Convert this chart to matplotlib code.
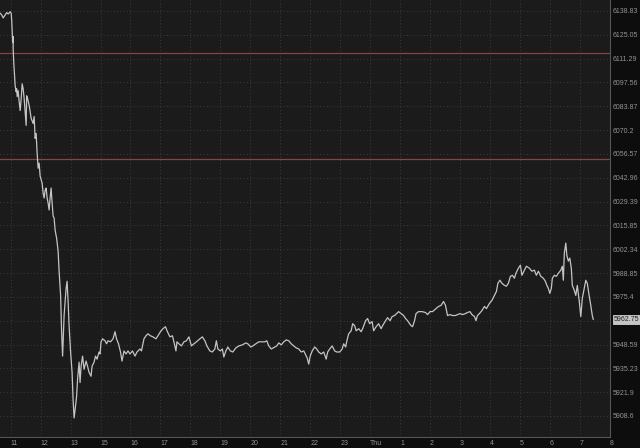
import matplotlib
matplotlib.use('agg')
import matplotlib.pyplot as plt
from matplotlib.ticker import FixedLocator, FixedFormatter, NullLocator

###########
# Data    #
###########

# minutes after the "11" tick, price
minutes = [-21, -18, -15, -11, -8, -5, -1, 1, 2, 3,
           4, 5, 5, 6, 7, 9, 11, 12, 13, 15,
           17, 19, 21, 23, 25, 27, 29, 31, 32, 34,
           37, 39, 41, 45, 47, 49, 51, 53, 55, 57,
           59, 63, 65, 67, 69, 71, 73, 75, 77, 79,
           81, 83, 85, 87, 89, 92, 95, 97, 100, 102,
           104, 107, 111, 113, 115, 117, 120, 123, 125, 127,
           129, 132, 134, 137, 139, 141, 144, 147, 151, 154,
           157, 161, 163, 167, 170, 173, 177, 179, 181, 184,
           189, 192, 195, 200, 205, 209, 212, 216, 220, 223,
           227, 231, 235, 239, 244, 249, 253, 259, 262, 267,
           271, 275, 280, 285, 291, 295, 300, 305, 310, 314,
           319, 324, 327, 331, 333, 337, 342, 347, 352, 357,
           362, 367, 372, 379, 384, 389, 393, 399, 404, 409,
           412, 415, 420, 424, 427, 431, 435, 440, 445, 451,
           457, 464, 471, 475, 481, 485, 491, 497, 502, 509,
           513, 517, 522, 529, 533, 537, 542, 547, 552, 557,
           562, 567, 572, 577, 582, 587, 591, 594, 597, 600,
           604, 609, 613, 617, 622, 627, 632, 635, 639, 644,
           649, 653, 659, 664, 667, 671, 673, 677, 682, 685,
           689, 692, 697, 702, 705, 711, 715, 719, 724, 727,
           732, 737, 742, 745, 751, 755, 760, 764, 769, 773,
           777, 782, 787, 791, 795, 799, 802, 805, 809, 812,
           817, 824, 831, 835, 840, 845, 852, 857, 862, 867,
           871, 875, 880, 885, 891, 895, 900, 905, 911, 915,
           920, 924, 929, 932, 935, 939, 944, 949, 953, 959,
           964, 969, 973, 976, 980, 984, 989, 993, 997, 1001,
           1005, 1009, 1012, 1017, 1021, 1024, 1029, 1033, 1039, 1044,
           1049, 1053, 1057, 1062, 1067, 1071, 1074, 1077, 1080, 1083,
           1085, 1089, 1093, 1097, 1102, 1105, 1107, 1109, 1112, 1114,
           1117, 1120, 1123, 1125, 1129, 1132, 1135, 1139, 1142, 1145,
           1149, 1152, 1155, 1159, 1162, 1165, 1167]

prices = [6137.5, 6136.6, 6134.8, 6136.6, 6137.9, 6137.1, 6138.4, 6137.5, 6133.7, 6126.9,
          6120.6, 6124.0, 6116.7, 6109.8, 6105.3, 6095.6, 6092.2, 6093.9, 6089.4, 6092.8,
          6086.5, 6081.4, 6088.2, 6096.8, 6093.9, 6088.2, 6080.8, 6072.9, 6089.9, 6088.2,
          6084.3, 6080.8, 6076.9, 6074.0, 6078.0, 6065.5, 6068.3, 6057.0, 6048.4, 6051.3,
          6043.9, 6039.9, 6034.2, 6031.4, 6035.9, 6037.1, 6031.4, 6028.5, 6024.6, 6031.4,
          6037.1, 6028.5, 6021.2, 6020.0, 6013.2, 6008.6, 6001.3, 5989.9, 5976.2, 5955.8,
          5942.1, 5964.9, 5980.2, 5984.2, 5972.8, 5959.2, 5944.4, 5933.0, 5917.7, 5907.5,
          5912.0, 5919.4, 5929.1, 5938.7, 5927.3, 5936.4, 5942.1, 5934.7, 5939.3, 5936.4,
          5933.0, 5930.8, 5936.4, 5938.7, 5942.1, 5940.4, 5944.4, 5943.3, 5950.1, 5951.8,
          5950.7, 5949.0, 5950.7, 5950.1, 5951.8, 5955.8, 5951.8, 5949.0, 5944.4, 5939.3,
          5945.0, 5943.3, 5945.0, 5943.3, 5945.0, 5942.1, 5944.4, 5946.1, 5945.0, 5951.8,
          5953.5, 5954.6, 5953.5, 5952.9, 5951.8, 5953.5, 5955.8, 5957.5, 5958.6, 5955.8,
          5952.9, 5953.5, 5950.1, 5945.0, 5950.1, 5949.0, 5947.8, 5950.1, 5950.7, 5952.9,
          5947.8, 5949.0, 5950.1, 5951.8, 5952.9, 5950.7, 5947.8, 5945.0, 5944.4, 5946.1,
          5950.7, 5946.1, 5945.0, 5946.1, 5941.6, 5945.0, 5947.2, 5945.0, 5944.4, 5946.7,
          5947.8, 5948.4, 5949.5, 5949.0, 5947.2, 5947.8, 5949.0, 5950.1, 5950.1, 5950.1,
          5950.7, 5947.8, 5946.1, 5947.2, 5947.8, 5949.5, 5948.4, 5950.1, 5951.2, 5950.7,
          5949.0, 5947.8, 5946.7, 5946.1, 5944.4, 5945.0, 5942.7, 5941.0, 5937.6, 5942.1,
          5945.0, 5947.2, 5946.1, 5944.4, 5943.3, 5944.4, 5940.4, 5944.4, 5946.1, 5947.8,
          5945.0, 5944.4, 5944.4, 5946.1, 5949.0, 5947.2, 5950.1, 5954.6, 5956.3, 5960.3,
          5959.2, 5956.3, 5957.5, 5955.8, 5957.5, 5962.0, 5963.2, 5960.3, 5961.5, 5956.3,
          5958.6, 5960.3, 5957.5, 5959.2, 5962.0, 5963.7, 5962.0, 5964.3, 5964.9, 5966.0,
          5967.1, 5966.0, 5964.9, 5963.2, 5962.0, 5960.3, 5959.2, 5958.6, 5962.0, 5966.0,
          5967.1, 5967.1, 5966.6, 5965.4, 5967.1, 5967.1, 5968.8, 5970.0, 5970.6, 5972.8,
          5970.6, 5964.9, 5965.4, 5964.9, 5964.9, 5965.4, 5966.0, 5965.4, 5966.0, 5966.6,
          5967.1, 5965.4, 5964.3, 5962.0, 5964.9, 5966.0, 5967.7, 5970.0, 5968.8, 5971.7,
          5973.4, 5976.2, 5978.5, 5983.1, 5984.8, 5983.1, 5981.9, 5981.4, 5983.1, 5987.0,
          5987.6, 5985.9, 5988.7, 5991.6, 5993.3, 5987.6, 5990.5, 5992.7, 5991.6, 5989.9,
          5990.5, 5987.6, 5989.9, 5987.0, 5985.9, 5984.2, 5981.9, 5980.2, 5977.4, 5980.2,
          5985.9, 5987.6, 5987.0, 5988.7, 5990.5, 5992.7, 5984.8, 6000.1, 6005.8, 5999.0,
          5995.6, 5997.3, 5991.6, 5981.9, 5979.1, 5976.2, 5981.9, 5972.8, 5964.3, 5974.5,
          5980.2, 5984.8, 5983.1, 5975.7, 5970.6, 5964.9, 5962.75]

last_price = 5962.75
levels = [6114.4, 6053.6]

y_ticks = [6138.83, 6125.05, 6111.29, 6097.56, 6083.87, 6070.2, 6056.57, 6042.96,
           6029.39, 6015.85, 6002.34, 5988.85, 5975.4, 5961.98, 5948.59, 5935.23,
           5921.9, 5908.6]
# the 5961.98 label sits under the price tag, so it is left blank
y_labels = ['6138.83', '6125.05', '6111.29', '6097.56', '6083.87', '6070.2', '6056.57',
            '6042.96', '6029.39', '6015.85', '6002.34', '5988.85', '5975.4', '',
            '5948.59', '5935.23', '5921.9', '5908.6']
x_labels = ['11', '12', '13', '15', '16', '17', '18', '19', '20', '21', '22', '23',
            'Thu', '1', '2', '3', '4', '5', '6', '7', '8']

##########
# Figure #
##########

plt.rcParams['font.family'] = ['Liberation Sans', 'DejaVu Sans']

fig = plt.figure(figsize=(6.4, 4.48), dpi=100, facecolor='#0d0d0d')
ax = fig.add_axes([0, 11/448, 610/640, 437/448])
ax.set_facecolor('#1b1b1b')

ax.plot(minutes, prices, color='#c4c4c4', lw=0.9, zorder=3)
for lv in levels:
    ax.axhline(lv, color='#8a4242', lw=0.9, zorder=2)

ax.set_yscale('log')
ax.set_ylim(5896.9, 6145.2)
ax.set_xlim(-21.4, 1200.5)

ax.yaxis.set_major_locator(FixedLocator(y_ticks))
ax.yaxis.set_major_formatter(FixedFormatter(y_labels))
ax.yaxis.set_minor_locator(NullLocator())
ax.yaxis.tick_right()
ax.set_xticks([60 * k for k in range(len(x_labels))])
ax.set_xticklabels(x_labels, ha='left')

ax.tick_params(axis='both', length=0, labelsize=5, labelcolor='#939393')
ax.tick_params(axis='y', pad=2)
ax.tick_params(axis='x', pad=2.5)

ax.grid(True, color='#474747', linestyle=(0, (1, 3)), lw=0.6)
for s in ['left', 'top']:
    ax.spines[s].set_visible(False)
for s in ['right', 'bottom']:
    ax.spines[s].set_color('#555555')
    ax.spines[s].set_linewidth(0.8)

# current price tag
ax.annotate('5962.75', xy=(1, last_price), xycoords=('axes fraction', 'data'),
            xytext=(3, 0), textcoords='offset points', ha='left', va='center',
            fontsize=5, color='#222222',
            bbox=dict(boxstyle='square,pad=0.15', fc='#c4c4c4', ec='#e6e6e6', lw=0.5),
            annotation_clip=False, zorder=5)

plt.savefig('out.png', dpi=100, facecolor=fig.get_facecolor())
